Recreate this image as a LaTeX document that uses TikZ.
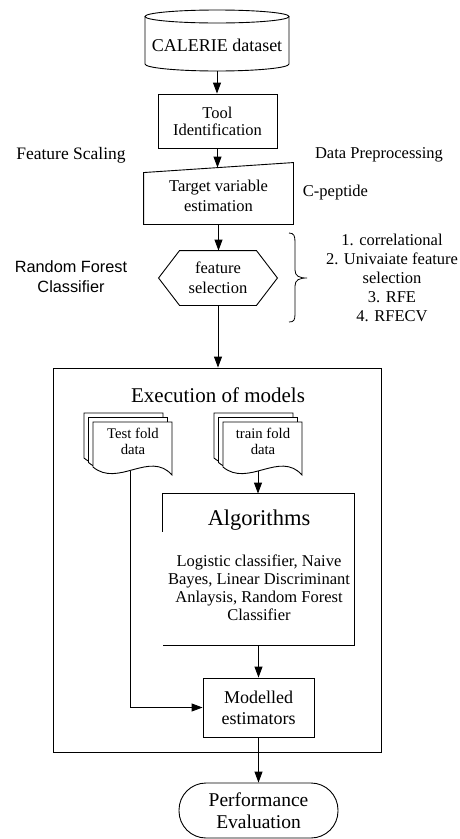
\documentclass[tikz,border=0pt]{standalone}
\usepackage{fontspec}
\setmainfont{Liberation Serif}
\newfontfamily\sansf{Liberation Sans}
\usetikzlibrary{arrows.meta,calc}
\newcommand\fz[2]{\fontsize{#1pt}{#2pt}\selectfont}
\newcommand\docpage[2]{%
  \filldraw[fill=white] (#1,-#2) -- (#1+79,-#2) -- (#1+79,-#2-53)
  .. controls (#1+57,-#2-28) and (#1+25,-#2-66) .. (#1,-#2-45) -- cycle;}
\begin{document}
\begin{tikzpicture}[x=1pt,y=1pt,line width=0.9pt,
  arr/.style={-{Triangle[length=11pt,width=8pt]}},
  txt/.style={align=center,inner sep=0pt}]
\useasboundingbox (0,0) rectangle (460,-839);

% cylinder
\filldraw[fill=white] (145,-16.5) -- (145,-64) arc[start angle=180,end angle=360,x radius=72,y radius=7] -- (289,-16.5);
\draw (217,-16.5) ellipse [x radius=72, y radius=6.5];
\node[txt,font=\fz{18}{21},minimum width=144pt,minimum height=52pt] (data) at (217,-45) {CALERIE dataset};

% tool
\node[txt,draw,font=\fz{16.5}{17},minimum width=119pt,minimum height=54pt] (tool) at (217.5,-121) {Tool\\Identification};

% target (manual input)
\node[txt,font=\fz{16.5}{20},minimum width=149pt,minimum height=56pt] (targ) at (218.5,-196) {Target variable\\estimation};
\draw (targ.south west) -- ([yshift=-5pt]targ.north west) -- ([yshift=5pt]targ.north east) -- (targ.south east) -- cycle;

% feature selection hexagon
\node[txt,font=\fz{16.5}{20},minimum width=118pt,minimum height=54pt] (feat) at (218,-278) {feature\\selection};
\draw (feat.west) -- ([xshift=21pt]feat.north west) -- ([xshift=-21pt]feat.north east) -- (feat.east) -- ([xshift=-21pt]feat.south east) -- ([xshift=21pt]feat.south west) -- cycle;

\draw[arr] (data.south) -- (data.south |- tool.north);
\draw[arr] (tool.south) -- (tool.south |- targ.north);
\draw[arr] (targ.south) -- (targ.south |- feat.north);

% side texts
\node[txt,font=\fz{17.5}{20}] (fs) at (71,-155) {Feature Scaling};
\node[txt,font=\fz{16.5}{20}] (dp) at (379,-155) {Data Preprocessing};
\node[txt,font=\fz{16.5}{20}] (cp) at (335.5,-193) {C-peptide};
\node[txt,font=\sansf\fz{16.3}{20}] (rf) at (71,-277) {Random Forest\\Classifier};
\node[txt,font=\fz{16.5}{19}] (list) at (392,-278) {1. correlational\\2. Univaiate feature\\selection\\3. RFE\\4. RFECV};
\draw[line width=0.8pt] (289,-233) .. controls (294,-233) and (295,-236) .. (295,-242) -- (295,-270) .. controls (295,-276) and (299,-278) .. (307,-278) .. controls (299,-278) and (295,-280) .. (295,-286) -- (295,-314) .. controls (295,-320) and (294,-322) .. (289,-322);

% execution box
\node[draw,minimum width=328pt,minimum height=384pt,inner sep=0pt] (exec) at (217,-560) {};
\draw[arr] (feat.south) -- (feat.south |- exec.north);
\node[txt,font=\fz{21}{24}] (exect) at (218,-395) {Execution of models};

% documents
\docpage{84}{413}\docpage{88.5}{417.5}\docpage{93}{422}
\node[txt,font=\fz{14.7}{16}] (testd) at (133,-441) {Test fold\\data};
\docpage{214}{413}\docpage{218.5}{417.5}\docpage{223}{422}
\node[txt,font=\fz{14.7}{16}] (traind) at (263,-441) {train fold\\data};
\coordinate (testb) at (130,-471);
\coordinate (trainb) at (258,-471);

% algorithms
\node[minimum width=191pt,minimum height=151pt,inner sep=0pt] (alg) at (258.5,-569.5) {};
\draw ([yshift=-38pt]alg.north west) -- (alg.north west) -- (alg.north east) -- (alg.south east) -- (alg.south west);
\node[txt,font=\fz{22.5}{26}] (algt) at (259,-520) {Algorithms};
\node[txt,font=\fz{16.5}{18}] (algb) at (259,-588) {Logistic classifier, Naive\\Bayes, Linear Discriminant\\Anlaysis, Random Forest\\Classifier};
\draw[arr] (trainb) -- (trainb |- alg.north);

% modelled
\node[txt,draw,font=\fz{18}{21},minimum width=111pt,minimum height=59pt] (model) at (258.5,-707.5) {Modelled\\estimators};
\draw[arr] (alg.south) -- (model.north);
\draw[arr] (testb) |- (model.west);

% performance
\node[txt,draw,rounded corners=27pt,font=\fz{19.5}{22},minimum width=159pt,minimum height=55pt] (perf) at (258.5,-810.5) {Performance\\Evaluation};
\draw[arr] (model.south) -- (perf.north);
\end{tikzpicture}
\end{document}
